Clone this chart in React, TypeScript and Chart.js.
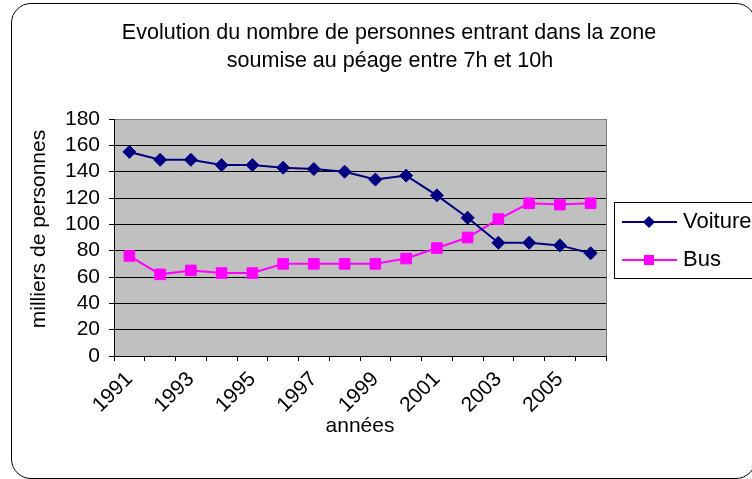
import React, { useEffect, useRef } from 'react';
import { Chart, registerables } from 'chart.js';

Chart.register(...registerables);

const TITLE_LINES = ['Evolution du nombre de personnes entrant dans la zone', 'soumise au péage entre 7h et 10h'];
const YEARS = ['1991', '1992', '1993', '1994', '1995', '1996', '1997', '1998', '1999', '2000', '2001', '2002', '2003', '2004', '2005', '2006'];
const VOITURE = [155, 149, 149, 145, 145, 143, 142, 140, 134, 137, 122, 105, 86, 86, 84, 78];
const BUS = [76, 62, 65, 63, 63, 70, 70, 70, 70, 74, 82, 90, 104, 116, 115, 116];
const SERIES_NAMES = ['Voiture', 'Bus'];
const Y_TITLE = 'milliers de personnes';
const X_TITLE = 'années';
const Y_MIN = 0;
const Y_MAX = 180;
const Y_STEP = 20;

const FONT = "'Liberation Sans', Arial, Helvetica, sans-serif";
const NAVY = '#000080';
const MAGENTA = '#FF00FF';

const backgroundPlugin = {
  id: 'plotBackground',
  beforeDraw(chart: any) {
    const { ctx, chartArea } = chart;
    if (!chartArea) return;
    ctx.save();
    ctx.fillStyle = '#C0C0C0';
    ctx.fillRect(chartArea.left, chartArea.top, chartArea.right - chartArea.left, chartArea.bottom - chartArea.top);
    ctx.strokeStyle = '#808080';
    ctx.lineWidth = 1;
    ctx.strokeRect(Math.round(chartArea.left) + 0.5, Math.round(chartArea.top) + 0.5,
      Math.round(chartArea.right - chartArea.left), Math.round(chartArea.bottom - chartArea.top));
    ctx.restore();
  },
};

const titleLegendPlugin = {
  id: 'titleLegend',
  afterDraw(chart: any) {
    const { ctx } = chart;
    ctx.save();
    // Title
    ctx.fillStyle = '#000';
    ctx.font = `21.5px ${FONT}`;
    ctx.textAlign = 'center';
    ctx.textBaseline = 'alphabetic';
    ctx.fillText(TITLE_LINES[0], 389, 39);
    ctx.fillText(TITLE_LINES[1], 390, 67);

    // Y axis title
    ctx.save();
    ctx.translate(39, 229);
    ctx.rotate(-Math.PI / 2);
    ctx.font = `21px ${FONT}`;
    ctx.textAlign = 'center';
    ctx.textBaseline = 'middle';
    ctx.fillText(Y_TITLE, 0, 0);
    ctx.restore();

    // Legend
    const boxLeft = 614.5;
    const boxTop = 202.5;
    ctx.strokeStyle = '#000';
    ctx.lineWidth = 1;
    ctx.fillStyle = '#fff';
    ctx.fillRect(boxLeft, boxTop, 160, 76);
    ctx.strokeRect(boxLeft, boxTop, 160, 76);
    chart.data.datasets.forEach((ds: any, i: number) => {
      const y = 222 + i * 38;
      ctx.strokeStyle = ds.borderColor;
      ctx.lineWidth = 2;
      ctx.beginPath();
      ctx.moveTo(622, y);
      ctx.lineTo(677, y);
      ctx.stroke();
      ctx.fillStyle = ds.backgroundColor;
      const cx = 649;
      if (ds.pointStyle === 'rectRot') {
        ctx.beginPath();
        ctx.moveTo(cx, y - 6);
        ctx.lineTo(cx + 6, y);
        ctx.lineTo(cx, y + 6);
        ctx.lineTo(cx - 6, y);
        ctx.closePath();
        ctx.fill();
      } else {
        ctx.fillRect(cx - 5, y - 5, 10, 10);
      }
      ctx.fillStyle = '#000';
      ctx.font = `22px ${FONT}`;
      ctx.textAlign = 'left';
      ctx.textBaseline = 'middle';
      ctx.fillText(ds.label, 683, y);
    });
    ctx.restore();
  },
};

export default function App() {
  const canvasRef = useRef<HTMLCanvasElement | null>(null);

  useEffect(() => {
    if (!canvasRef.current) return;
    const chart = new Chart(canvasRef.current, {
      type: 'line',
      data: {
        labels: YEARS,
        datasets: [
          {
            label: SERIES_NAMES[0],
            data: VOITURE,
            borderColor: NAVY,
            backgroundColor: NAVY,
            borderWidth: 2,
            pointStyle: 'rectRot',
            pointRadius: 6.5,
            pointBorderWidth: 1,
            pointBorderColor: NAVY,
            pointBackgroundColor: NAVY,
            tension: 0,
          },
          {
            label: SERIES_NAMES[1],
            data: BUS,
            borderColor: MAGENTA,
            backgroundColor: MAGENTA,
            borderWidth: 2,
            pointStyle: 'rect',
            pointRadius: 7.5,
            pointBorderWidth: 1,
            pointBorderColor: MAGENTA,
            pointBackgroundColor: MAGENTA,
            tension: 0,
          },
        ],
      },
      options: {
        animation: false,
        responsive: false,
        devicePixelRatio: 1,
        layout: { padding: { left: 0, right: 146, top: 119, bottom: 0 } },
        plugins: {
          legend: { display: false },
          title: { display: false },
          tooltip: { enabled: false },
        },
        scales: {
          x: {
            offset: true,
            ticks: {
              autoSkip: false,
              maxRotation: 45,
              minRotation: 45,
              color: '#000',
              font: { size: 21, family: FONT },
              padding: 6,
              callback: (_v: any, i: number) => (i % 2 === 0 ? YEARS[i] : ''),
            },
            grid: { offset: true, drawOnChartArea: false, color: '#000', tickLength: 5 },
            border: { color: '#000', width: 1 },
            title: {
              display: true,
              text: X_TITLE,
              color: '#000',
              font: { size: 21, family: FONT },
              padding: { top: 0, bottom: 40 },
            },
            afterFit: (s: any) => { s.height = 123; },
          },
          y: {
            min: Y_MIN,
            max: Y_MAX,
            ticks: {
              stepSize: Y_STEP,
              autoSkip: false,
              color: '#000',
              font: { size: 21, family: FONT },
              padding: 9,
            },
            grid: {
              color: (c: any) => (c.tick && c.tick.value === Y_MAX ? '#808080' : '#000'),
              tickColor: '#000',
              tickLength: 5,
              lineWidth: 1,
            },
            border: { color: '#000', width: 1 },
            title: { display: false },
            afterFit: (s: any) => { s.width = 114; },
          },
        },
      },
      plugins: [backgroundPlugin, titleLegendPlugin],
    } as any);
    return () => chart.destroy();
  }, []);

  return (
    <div style={{ position: 'absolute', left: 0, top: 0, width: 752, height: 479, overflow: 'hidden', background: '#fff' }}>
      <canvas ref={canvasRef} width={752} height={479} style={{ position: 'absolute', left: 0, top: 0, width: 752, height: 479 }} />
      <div
        style={{
          position: 'absolute',
          left: 11,
          top: 3,
          width: 745,
          height: 476,
          boxSizing: 'border-box',
          border: '1px solid #000',
          borderRadius: 20,
          pointerEvents: 'none',
        }}
      />
    </div>
  );
}
